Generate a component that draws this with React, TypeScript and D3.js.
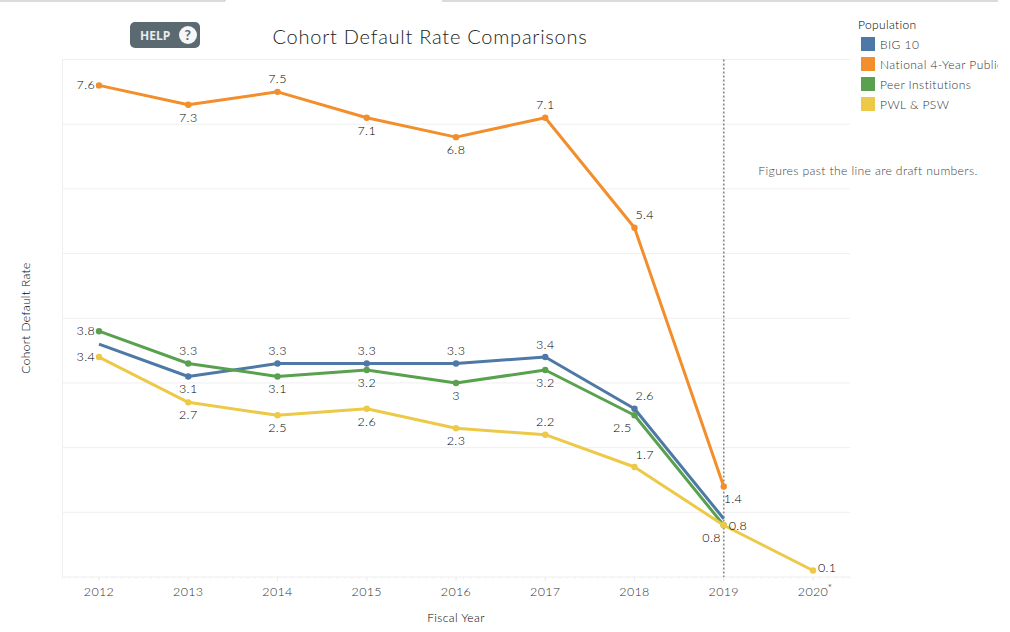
import * as d3 from "d3";

const years = [2012, 2013, 2014, 2015, 2016, 2017, 2018, 2019, 2020];
const big10 = [3.6, 3.1, 3.3, 3.3, 3.3, 3.4, 2.6, 0.9];
const national = [7.6, 7.3, 7.5, 7.1, 6.8, 7.1, 5.4, 1.4];
const peer = [3.8, 3.3, 3.1, 3.2, 3.0, 3.2, 2.5, 0.8];
const pwl = [3.4, 2.7, 2.5, 2.6, 2.3, 2.2, 1.7, 0.8, 0.1];
const gridValues = [0, 1, 2, 3, 4, 5, 6, 7, 8];

// where each value label sits around its point ("" = no label and no dot)
const big10Labels = ["", "b", "t", "t", "t", "t", "tr", ""];
const nationalLabels = ["l", "b", "t", "b", "b", "t", "tr", "br"];
const peerLabels = ["l", "t", "b", "b", "b", "b", "bl", "r"];
const pwlLabels = ["l", "b", "b", "b", "b", "t", "tr", "bl", "ur"];

const series = [
  { name: "BIG 10", color: "#4e79a7", values: big10, labels: big10Labels },
  { name: "National 4-Year Public", color: "#f28e2b", values: national, labels: nationalLabels },
  { name: "Peer Institutions", color: "#59a14f", values: peer, labels: peerLabels },
  { name: "PWL & PSW", color: "#edc948", values: pwl, labels: pwlLabels },
];

const font = "Lato, sans-serif";
const x = d3.scaleLinear().domain([2012, 2020]).range([99, 813]);
const y = d3.scaleLinear().domain([0, 8]).range([577, 59.5]);

const offsets: Record<string, [number, number, "start" | "middle" | "end"]> = {
  t: [0, -8.5, "middle"],
  b: [0, 17, "middle"],
  l: [-4, 4, "end"],
  r: [5, 4.5, "start"],
  ur: [5, 1, "start"],
  tr: [1, -8.5, "start"],
  br: [0, 16.5, "start"],
  bl: [-3, 17, "end"],
};

// monthly minor ticks along the baseline
const monthTicks = d3.range(-5, 102).map((m) => 2012 + m / 12);

export default function App() {
  const line = d3
    .line<number>()
    .x((_, i) => x(years[i]))
    .y((d) => y(d));

  return (
    <svg
      width={1010}
      height={632}
      style={{ position: "absolute", left: 0, top: 0, background: "#fff" }}
      fontFamily={font}
      letterSpacing={0.35}
    >
      {/* page chrome along the top edge */}
      <path d="M0,1H225M225,0V1M442,1H998" stroke="#cfcfcf" strokeWidth={1.5} fill="none" />

      {/* help button */}
      <rect x={130} y={22} width={70} height={26} rx={5} fill="#5b6970" />
      <text x={140} y={39.5} fill="#e8ecee" fontSize={12} fontWeight={700} fontFamily="'Open Sans', sans-serif" letterSpacing={0}>
        HELP
      </text>
      <circle cx={188} cy={35} r={9} fill="#f4f6f7" />
      <text x={188} y={40} fill="#5b6970" fontSize={14} fontWeight={700} textAnchor="middle">
        ?
      </text>

      <text x={430} y={44} fontSize={20} fontWeight={300} fill="#222" textAnchor="middle" letterSpacing={0.75}>
        Cohort Default Rate Comparisons
      </text>

      {/* grid */}
      {gridValues.map((v) => (
        <line key={v} x1={62} x2={850} y1={y(v)} y2={y(v)} stroke="#efefef" />
      ))}
      <line x1={62.5} x2={62.5} y1={y(8)} y2={y(0)} stroke="#efefef" />

      {/* x axis */}
      {monthTicks.map((t) => (
        <line key={t} x1={x(t)} x2={x(t)} y1={y(0)} y2={y(0) + 2} stroke="#f0f0f0" />
      ))}
      {years.map((yr) => (
        <g key={yr}>
          <line x1={x(yr)} x2={x(yr)} y1={y(0)} y2={y(0) + 4} stroke="#ececec" />
          <text x={x(yr)} y={596} fontSize={12.5} fontWeight={300} fill="#333" textAnchor="middle">
            {yr}
          </text>
        </g>
      ))}
      <text x={830} y={591} fontSize={10} fill="#666" textAnchor="middle">
        *
      </text>
      <text x={456} y={622} fontSize={12} fontWeight={300} fill="#000" textAnchor="middle">
        Fiscal Year
      </text>
      <text
        transform="translate(30,318) rotate(-90)"
        fontSize={12}
        fontWeight={300}
        fill="#000"
        textAnchor="middle"
      >
        Cohort Default Rate
      </text>

      {/* draft-number reference line */}
      <line x1={x(2019)} x2={x(2019)} y1={y(8)} y2={y(0)} stroke="#888" strokeWidth={1.6} strokeDasharray="2 2" />
      <text x={868} y={175} fontSize={12.2} fontWeight={300} fill="#444" textAnchor="middle">
        Figures past the line are draft numbers.
      </text>

      {/* series */}
      {series.map((s) => (
        <g key={s.name}>
          <path d={line(s.values) ?? ""} fill="none" stroke={s.color} strokeWidth={3} strokeLinejoin="round" />
          {s.values.map((v, i) =>
            s.labels[i] ? <circle key={i} cx={x(years[i])} cy={y(v)} r={3.2} fill={s.color} /> : null
          )}
        </g>
      ))}
      {series.map((s) =>
        s.values.map((v, i) => {
          const pos = s.labels[i];
          if (!pos) return null;
          const [dx, dy, anchor] = offsets[pos];
          return (
            <text
              key={s.name + i}
              x={x(years[i]) + dx}
              y={y(v) + dy}
              fontSize={12.5}
              fontWeight={300}
              fill="#000"
              textAnchor={anchor}
            >
              {v}
            </text>
          );
        })
      )}

      {/* legend */}
      <text x={858} y={29} fontSize={12} fontWeight={300} fill="#000">
        Population
      </text>
      <defs>
        <clipPath id="legend-clip">
          <rect x={855} y={30} width={143} height={90} />
        </clipPath>
      </defs>
      <g clipPath="url(#legend-clip)">
        {series.map((s, i) => (
          <g key={s.name} transform={`translate(861,${37 + i * 20})`}>
            <rect width={14} height={14} fill={s.color} />
            <text x={19} y={12} fontSize={12} fontWeight={300} fill="#333" letterSpacing={0.45}>
              {s.name}
            </text>
          </g>
        ))}
      </g>
    </svg>
  );
}
